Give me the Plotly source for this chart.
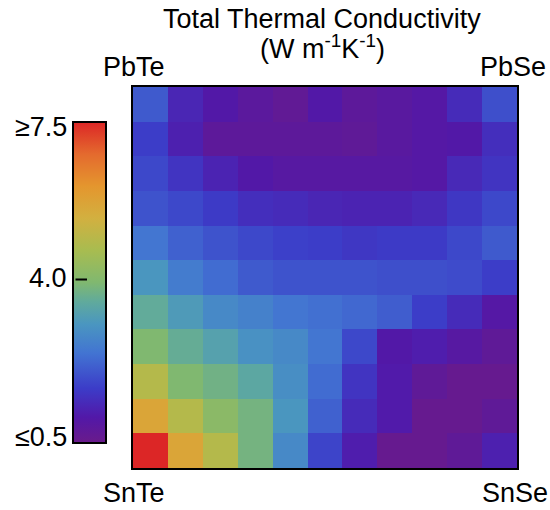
import plotly.graph_objects as go

# Rows listed top (PbTe-PbSe edge) to bottom (SnTe-SnSe edge); columns left to right
kappa = [
    [2.1, 1.3, 1.05, 0.85, 0.7, 1.05, 0.8, 0.9, 1.0, 1.4, 1.95],
    [1.7, 1.2, 0.8, 0.8, 0.8, 0.8, 0.75, 0.9, 1.0, 1.05, 1.45],
    [1.85, 1.55, 1.25, 1.05, 0.95, 0.95, 0.95, 0.95, 1.0, 1.35, 1.55],
    [2.0, 1.85, 1.65, 1.45, 1.4, 1.3, 1.25, 1.25, 1.35, 1.6, 1.85],
    [2.5, 2.2, 2.0, 1.85, 1.75, 1.7, 1.6, 1.65, 1.65, 1.85, 2.1],
    [3.1, 2.6, 2.35, 2.1, 2.0, 2.0, 2.0, 1.95, 1.95, 1.9, 1.7],
    [3.6, 3.2, 2.85, 2.7, 2.5, 2.4, 2.3, 2.15, 1.7, 1.4, 1.0],
    [4.0, 3.65, 3.35, 3.0, 2.85, 2.5, 1.85, 1.05, 1.15, 0.95, 0.75],
    [4.9, 4.0, 3.8, 3.5, 2.95, 2.35, 1.55, 1.1, 0.75, 0.6, 0.6],
    [5.7, 4.9, 4.2, 3.85, 3.1, 2.2, 1.4, 1.1, 0.6, 0.6, 0.75],
    [7.5, 5.7, 4.9, 3.85, 2.85, 1.8, 1.15, 0.6, 0.6, 0.75, 1.2],
]
zmin, zmax = 0.5, 7.5
cbar_ticks = [7.5, 4.0, 0.5]
cbar_labels = ["≥7.5", "4.0", "≤0.5"]
corner_labels = ["PbTe", "PbSe", "SnTe", "SnSe"]
title_lines = ["Total Thermal Conductivity", "(W m<sup>-1</sup>K<sup>-1</sup>)"]

colorscale = [
    [0.0, "#6a1b8a"], [0.08, "#5218a8"], [0.17, "#3c3cc8"], [0.28, "#4274d2"],
    [0.37, "#4a96c0"], [0.44, "#60aa9c"], [0.5, "#80b870"], [0.6, "#a8bc50"],
    [0.7, "#d2b040"], [0.8, "#e4962e"], [0.9, "#e46a2e"], [1.0, "#dc2626"],
]

W, H = 550, 510
L, R, T, B = 133, 33, 87, 42
pw, ph = W - L - R, H - T - B

def px(x):
    return (x - L) / pw

def py(y):
    return (H - B - y) / ph

FONT = "Liberation Sans, Arial, sans-serif"

cb_top, cb_bot = 122, 443

fig = go.Figure(go.Heatmap(
    z=kappa, zmin=zmin, zmax=zmax, colorscale=colorscale,
    colorbar=dict(
        x=px(73), xanchor="left", xref="paper", xpad=0, ypad=0,
        y=py((cb_top + cb_bot) / 2), yanchor="middle",
        len=cb_bot - cb_top, lenmode="pixels", thickness=33, thicknessmode="pixels",
        outlinewidth=2, outlinecolor="black",
        showticklabels=False, ticks="",
    ),
    hoverinfo="skip",
))

def cb_y(v):
    return cb_bot - (v - zmin) / (zmax - zmin) * (cb_bot - cb_top)

ann = []
label_y = {7.5: 127, 4.0: 278, 0.5: 437}
for v, t in zip(cbar_ticks, cbar_labels):
    ann.append(dict(x=px(69), y=py(label_y[v]), xref="paper", yref="paper",
                    text=t, showarrow=False, xanchor="right", yanchor="middle",
                    font=dict(size=27, color="black", family=FONT)))

# tick mark for 4.0 drawn on the left edge of the colour bar
tick_y = cb_y(4.0) - 3
ann.append(dict(x=px(87), y=py(tick_y), xref="paper", yref="paper", text="",
                showarrow=True, arrowhead=0, arrowwidth=2, arrowcolor="black",
                ax=-13, ay=0, standoff=0, startstandoff=0))

corner_pos = [(134, 67), (513, 67), (134, 493), (515, 493)]
for t, (x, y) in zip(corner_labels, corner_pos):
    ann.append(dict(x=px(x), y=py(y), xref="paper", yref="paper", text=t,
                    showarrow=False, xanchor="center", yanchor="middle",
                    font=dict(size=27, color="black", family=FONT)))

for t, y in zip(title_lines, [19, 47]):
    ann.append(dict(x=px(322), y=py(y), xref="paper", yref="paper", text=t,
                    showarrow=False, xanchor="center", yanchor="middle",
                    font=dict(size=27, color="black", family=FONT)))

fig.update_layout(
    width=W, height=H,
    margin=dict(l=L, r=R, t=T, b=B),
    paper_bgcolor="white", plot_bgcolor="white",
    annotations=ann,
    xaxis=dict(showticklabels=False, ticks="", showgrid=False, zeroline=False,
               showline=True, mirror=True, linecolor="black", linewidth=2,
               range=[-0.5, 10.5]),
    yaxis=dict(showticklabels=False, ticks="", showgrid=False, zeroline=False,
               showline=True, mirror=True, linecolor="black", linewidth=2,
               range=[10.5, -0.5]),
)

fig.write_html("out.html")
